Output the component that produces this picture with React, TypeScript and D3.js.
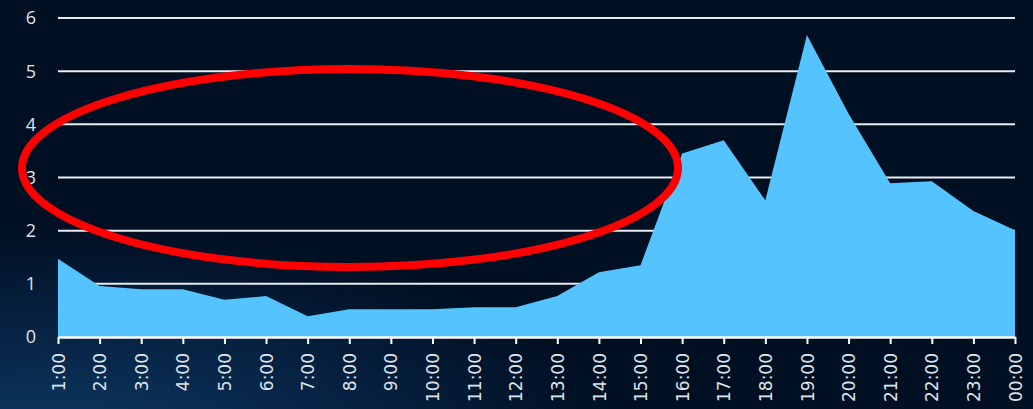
import React, { useRef, useEffect } from 'react';
import * as d3 from 'd3';

const hours = [
  '1:00', '2:00', '3:00', '4:00', '5:00', '6:00', '7:00', '8:00', '9:00', '10:00', '11:00', '12:00',
  '13:00', '14:00', '15:00', '16:00', '17:00', '18:00', '19:00', '20:00', '21:00', '22:00', '23:00', '00:00',
];
const values = [
  1.47, 0.96, 0.9, 0.9, 0.7, 0.77, 0.39, 0.52, 0.52, 0.52, 0.56, 0.56,
  0.77, 1.22, 1.35, 3.45, 3.7, 2.57, 5.68, 4.2, 2.89, 2.93, 2.37, 2.01,
];
const yTicks = [0, 1, 2, 3, 4, 5, 6];

const W = 1033;
const H = 409;

const App: React.FC = () => {
  const ref = useRef<SVGSVGElement>(null);

  useEffect(() => {
    if (!ref.current) return;
    const svg = d3.select(ref.current);
    svg.selectAll('*').remove();

    const margin = { top: 18, right: 18, bottom: 72, left: 58 };
    const width = W - margin.left - margin.right;
    const height = H - margin.top - margin.bottom;

    // background
    const defs = svg.append('defs');
    const grad = defs.append('radialGradient')
      .attr('id', 'bg')
      .attr('cx', '0.05').attr('cy', '1.1').attr('r', '0.55');
    grad.append('stop').attr('offset', '0%').attr('stop-color', '#0d3a66');
    grad.append('stop').attr('offset', '60%').attr('stop-color', '#06203f');
    grad.append('stop').attr('offset', '100%').attr('stop-color', '#010f22');
    svg.append('rect').attr('width', W).attr('height', H).attr('fill', '#010f22');
    svg.append('rect').attr('width', W).attr('height', H).attr('fill', 'url(#bg)');

    const g = svg.append('g').attr('transform', `translate(${margin.left},${margin.top})`);

    const x = d3.scalePoint().domain(hours).range([0, width]);
    const y = d3.scaleLinear().domain([0, 6]).range([height, 0]);

    // gridlines
    g.selectAll('.grid')
      .data(yTicks.filter(d => d > 0))
      .enter()
      .append('line')
      .attr('x1', 0).attr('x2', width)
      .attr('y1', d => y(d)).attr('y2', d => y(d))
      .attr('stroke', '#e8ecf0')
      .attr('stroke-width', 2);

    // area
    const area = d3.area<number>()
      .x((d, i) => x(hours[i]) || 0)
      .y0(height)
      .y1(d => y(d));
    g.append('path')
      .datum(values)
      .attr('fill', '#55c4fe')
      .attr('d', area);

    // y labels
    g.selectAll('.ylab')
      .data(yTicks)
      .enter()
      .append('text')
      .attr('x', -22)
      .attr('y', d => y(d))
      .attr('dy', '0.36em')
      .attr('text-anchor', 'end')
      .attr('fill', '#dfe4ea')
      .attr('font-family', 'Open Sans, sans-serif')
      .attr('font-size', 18)
      .text(d => String(d));

    // x axis
    const xAxis = g.append('g')
      .attr('transform', `translate(0,${height})`)
      .call(d3.axisBottom(x).tickSize(7).tickSizeOuter(0));
    xAxis.select('.domain').attr('stroke', '#ffffff').attr('stroke-width', 2.5);
    xAxis.selectAll('.tick line').attr('stroke', '#ffffff').attr('stroke-width', 2);
    xAxis.selectAll('.tick text')
      .attr('fill', '#dfe4ea')
      .attr('font-family', 'DejaVu Sans, sans-serif')
      .attr('font-size', 17)
      .attr('text-anchor', 'end')
      .attr('transform', 'rotate(-90)')
      .attr('x', -16)
      .attr('y', 0)
      .attr('dy', '0.36em');

    // annotation ellipse
    svg.append('ellipse')
      .attr('cx', 350).attr('cy', 168)
      .attr('rx', 328).attr('ry', 99)
      .attr('fill', 'none')
      .attr('stroke', '#ff0000')
      .attr('stroke-width', 8);
  }, []);

  return (
    <svg
      ref={ref}
      width={W}
      height={H}
      style={{ position: 'absolute', left: 0, top: 0, display: 'block' }}
    />
  );
};

export default App;
